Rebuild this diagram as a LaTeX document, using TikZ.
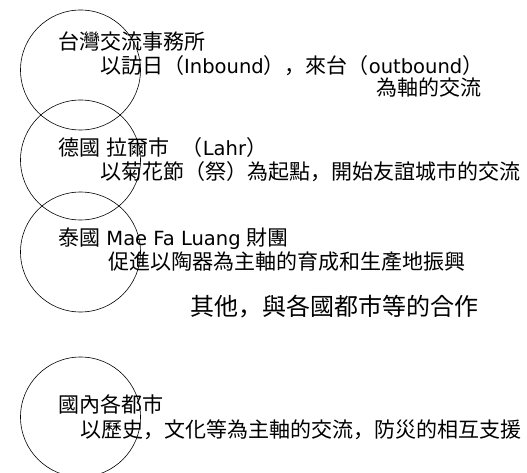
\documentclass[tikz,border=0pt]{standalone}
\usepackage{fontspec}
\setmainfont[Scale=0.93]{DejaVu Sans}
\newfontfamily\cjk{Noto Sans CJK JP}
\tikzset{
  txt/.style={anchor=base west, inner sep=0pt, font=\fontsize{21}{25}\selectfont},
  bigtxt/.style={txt, font=\fontsize{24}{28}\selectfont},
  ring/.style={line width=0.6pt},
}

\begin{document}
\begin{tikzpicture}[x=1pt,y=-1pt]
			%%%%% START %%%%%
			
			\useasboundingbox (0, 0) rectangle (527, 473);
			\clip (0, 0) rectangle (527, 473);
			
			\draw[ring] (80.5, 70) circle (60);
			\draw[ring] (80.5, 160) circle (60);
			\draw[ring] (80.5, 252) circle (60);
			\draw[ring] (80.5, 417) circle (60);
			
			\node[txt] (taiwan) at (58, 50) {\cjk 台灣交流事務所};
			\node[txt] (taiwanA) at (100, 74) {{\cjk 以訪日（}Inbound{\cjk ），來台（}outbound{\cjk ）}};
			\node[txt, anchor=base east] (taiwanB) at (482, 96) {\cjk 為軸的交流};
			
			\node[txt] (lahr) at (58, 156) {{\cjk 德國} {\cjk 拉爾市}\ \ {\cjk （}Lahr{\cjk ）}};
			\node[txt] (lahrA) at (100, 179) {\cjk 以菊花節（祭）為起點，開始友誼城市的交流};
			
			\node[txt] (thai) at (58, 245) {{\cjk 泰國} Mae Fa Luang {\cjk 財團}};
			\node[txt] (thaiA) at (108, 269) {\cjk 促進以陶器為主軸的育成和生產地振興};
			
			\node[bigtxt] (others) at (190, 315) {\cjk 其他，與各國都市等的合作};
			
			\node[txt] (domestic) at (58, 412) {\cjk 國內各都市};
			\node[txt] (domesticA) at (80, 437) {\cjk 以歷史，文化等為主軸的交流，防災的相互支援};
			
			%%%%% END %%%%%
\end{tikzpicture}
\end{document}
